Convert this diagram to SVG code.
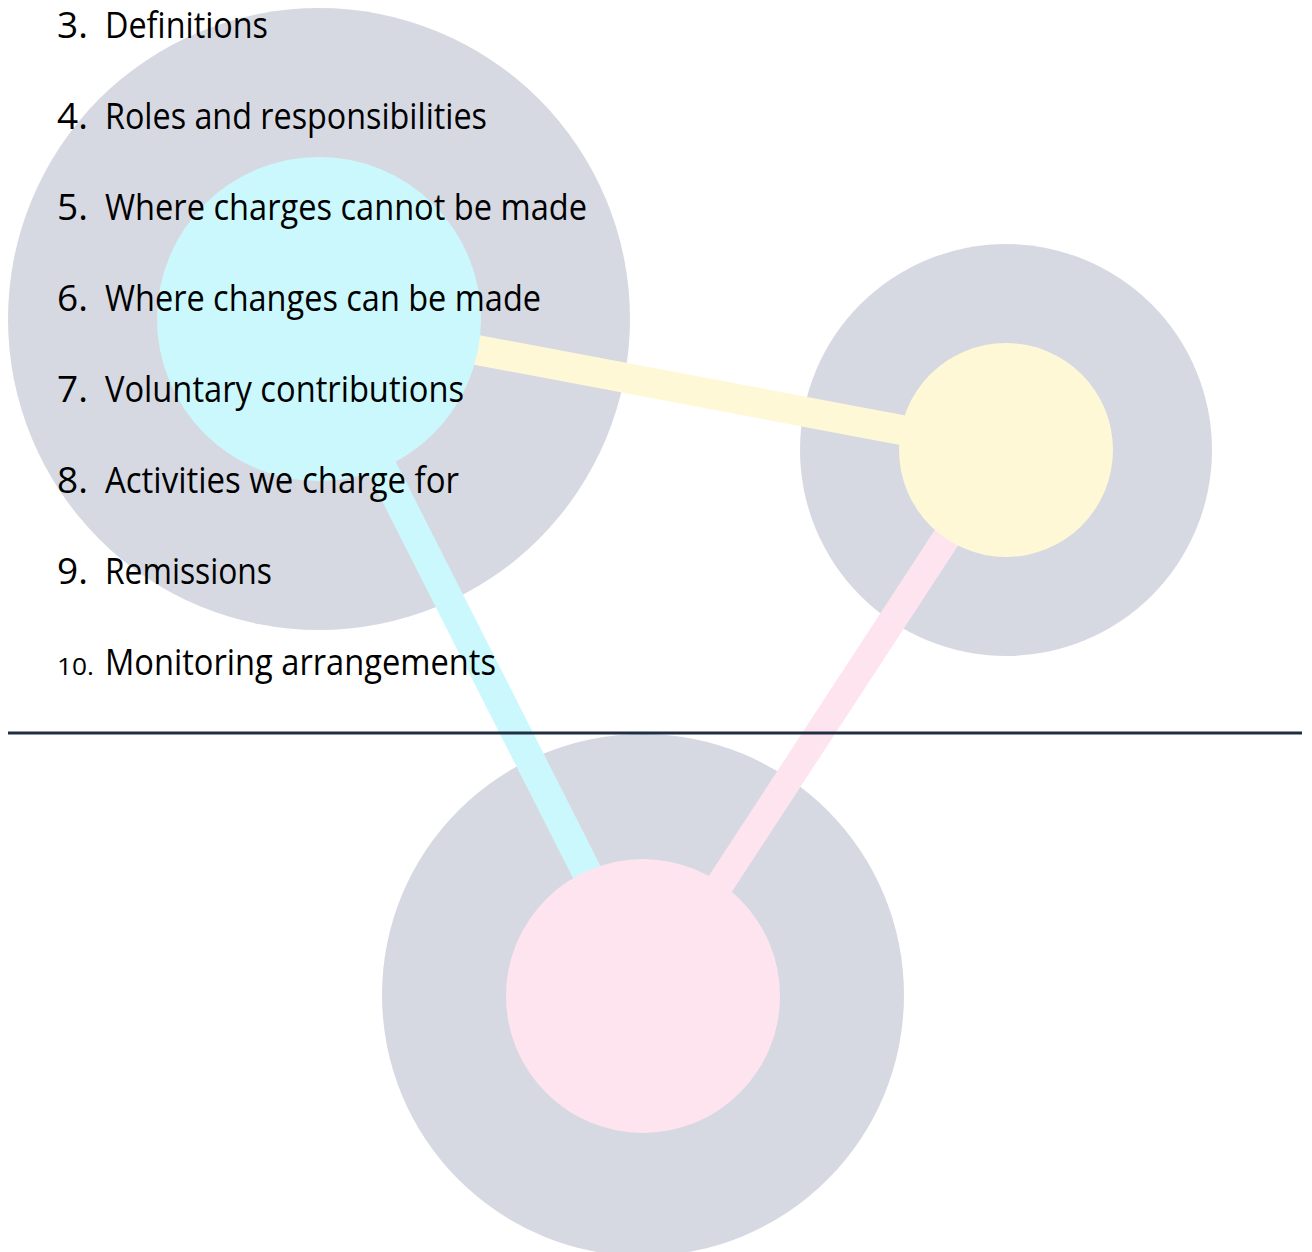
<svg xmlns="http://www.w3.org/2000/svg" width="1312" height="1252" viewBox="0 0 1312 1252">
<style>
.halo{fill:#d6d9e2}
.bar{fill:none;stroke-linecap:butt}
.t{font-family:"Open Sans","Noto Sans",sans-serif;font-size:37px;fill:#000}
.n{font-family:"Open Sans","Noto Sans",sans-serif;font-size:37px;fill:#000}
.s{font-family:"Open Sans","Noto Sans",sans-serif;font-size:23px;fill:#000}
</style>
<rect width="1312" height="1252" fill="#fff"/>
<g id="halos">
<circle class="halo" cx="319" cy="319" r="311"/>
<circle class="halo" cx="1006" cy="450" r="206"/>
<circle class="halo" cx="643" cy="995" r="261"/>
</g>
<g id="connectors">
<line class="bar" x1="440" y1="343" x2="960" y2="441" stroke="#fef8d7" stroke-width="30"/>
<line class="bar" x1="370" y1="444" x2="608" y2="914" stroke="#cbf8fc" stroke-width="30"/>
<line class="bar" x1="975" y1="494" x2="700" y2="915" stroke="#fde4ef" stroke-width="28"/>
</g>
<g id="node-cyan"><circle cx="319" cy="319" r="162" fill="#cbf8fc"/></g>
<g id="node-yellow"><circle cx="1006" cy="450" r="107" fill="#fef8d7"/></g>
<g id="node-pink"><circle cx="643" cy="996" r="137" fill="#fde4ef"/></g>
<line id="rule" x1="8" y1="733" x2="1302" y2="733" stroke="#1f2e45" stroke-width="3"/>
<g id="list">
<text class="n" x="57" y="38">3.</text><text class="t" x="105" y="38" textLength="163" lengthAdjust="spacingAndGlyphs">Definitions</text>
<text class="n" x="57" y="129">4.</text><text class="t" x="105" y="129" textLength="382" lengthAdjust="spacingAndGlyphs">Roles and responsibilities</text>
<text class="n" x="57" y="220">5.</text><text class="t" x="105" y="220" textLength="482" lengthAdjust="spacingAndGlyphs">Where charges cannot be made</text>
<text class="n" x="57" y="311">6.</text><text class="t" x="105" y="311" textLength="436" lengthAdjust="spacingAndGlyphs">Where changes can be made</text>
<text class="n" x="57" y="402">7.</text><text class="t" x="105" y="402" textLength="359" lengthAdjust="spacingAndGlyphs">Voluntary contributions</text>
<text class="n" x="57" y="493">8.</text><text class="t" x="105" y="493" textLength="354" lengthAdjust="spacingAndGlyphs">Activities we charge for</text>
<text class="n" x="57" y="584">9.</text><text class="t" x="105" y="584" textLength="167" lengthAdjust="spacingAndGlyphs">Remissions</text>
<text class="s" x="57" y="675" textLength="37" lengthAdjust="spacingAndGlyphs">10.</text><text class="t" x="105" y="675" textLength="391" lengthAdjust="spacingAndGlyphs">Monitoring arrangements</text>
</g>
</svg>
